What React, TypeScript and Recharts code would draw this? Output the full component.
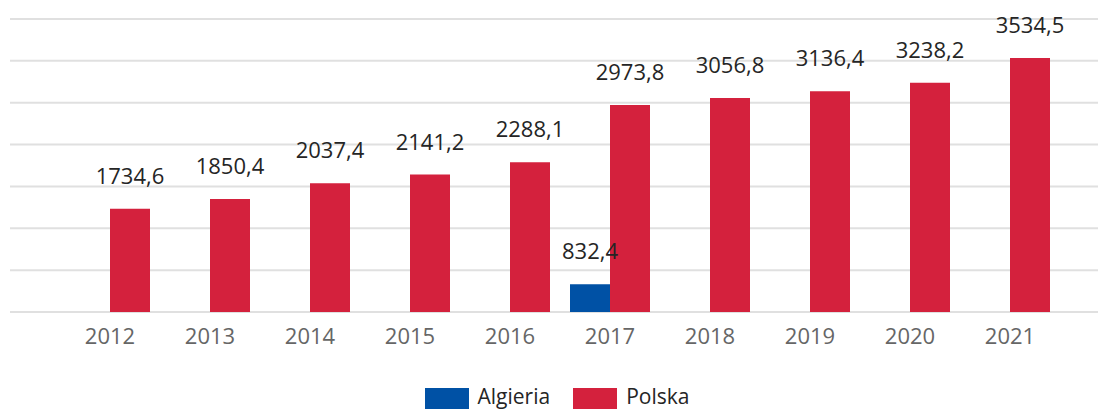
import { Bar, BarChart, CartesianGrid, LabelList, XAxis, YAxis } from "recharts";

const years = ["2012", "2013", "2014", "2015", "2016", "2017", "2018", "2019", "2020", "2021"];
const algieria = [null, null, null, null, null, 832.4, null, null, null, null];
const polska = [1734.6, 1850.4, 2037.4, 2141.2, 2288.1, 2973.8, 3056.8, 3136.4, 3238.2, 3534.5];
const yTicks = [500, 1000, 1500, 2000, 2500, 3000, 3500, 4000];

const BLUE = "#0051a5";
const RED = "#d4213d";
const FONT = "'Open Sans', 'Noto Sans', sans-serif";

const data = years.map((year, i) => ({
  year,
  algieria: algieria[i],
  polska: polska[i],
}));

const fmt = (v: unknown) =>
  v === null || v === undefined ? "" : Number(v).toFixed(1).replace(".", ",");

const legendItems = [
  { name: "Algieria", color: BLUE },
  { name: "Polska", color: RED },
];

const labelStyle = { fill: "#252525", fontSize: 22, fontFamily: FONT };

export default function App() {
  return (
    <div style={{ position: "absolute", left: 0, top: 0, width: 1098, height: 409, fontFamily: FONT, overflow: "hidden" }}>
      <BarChart
        width={1098}
        height={409}
        data={data}
        margin={{ top: 19, right: 0, left: 10, bottom: 67 }}
        barGap={0}
        barSize={40}
      >
        <CartesianGrid vertical={false} stroke="#e0e0e0" strokeWidth={2} />
        <XAxis
          dataKey="year"
          axisLine={false}
          tickLine={false}
          padding={{ left: 50, right: 38 }}
          tick={{ fill: "#666666", fontSize: 22, fontFamily: FONT }}
          tickMargin={10}
        />
        <YAxis hide domain={[500, 4000]} ticks={yTicks} />
        <Bar dataKey="algieria" fill={BLUE} isAnimationActive={false}>
          <LabelList dataKey="algieria" position="top" offset={25} formatter={fmt} style={labelStyle} />
        </Bar>
        <Bar dataKey="polska" fill={RED} isAnimationActive={false}>
          <LabelList dataKey="polska" position="top" offset={25} formatter={fmt} style={labelStyle} />
        </Bar>
      </BarChart>
      <div
        style={{
          position: "absolute",
          top: 388,
          left: 8,
          width: 1098,
          display: "flex",
          justifyContent: "center",
          gap: 23,
          fontSize: 21,
          lineHeight: "16px",
          color: "#252525",
        }}
      >
        {legendItems.map((item) => (
          <div key={item.name} style={{ display: "flex", alignItems: "flex-start" }}>
            <span style={{ display: "inline-block", width: 44, height: 21, background: item.color, marginRight: 9 }} />
            <span>{item.name}</span>
          </div>
        ))}
      </div>
    </div>
  );
}
